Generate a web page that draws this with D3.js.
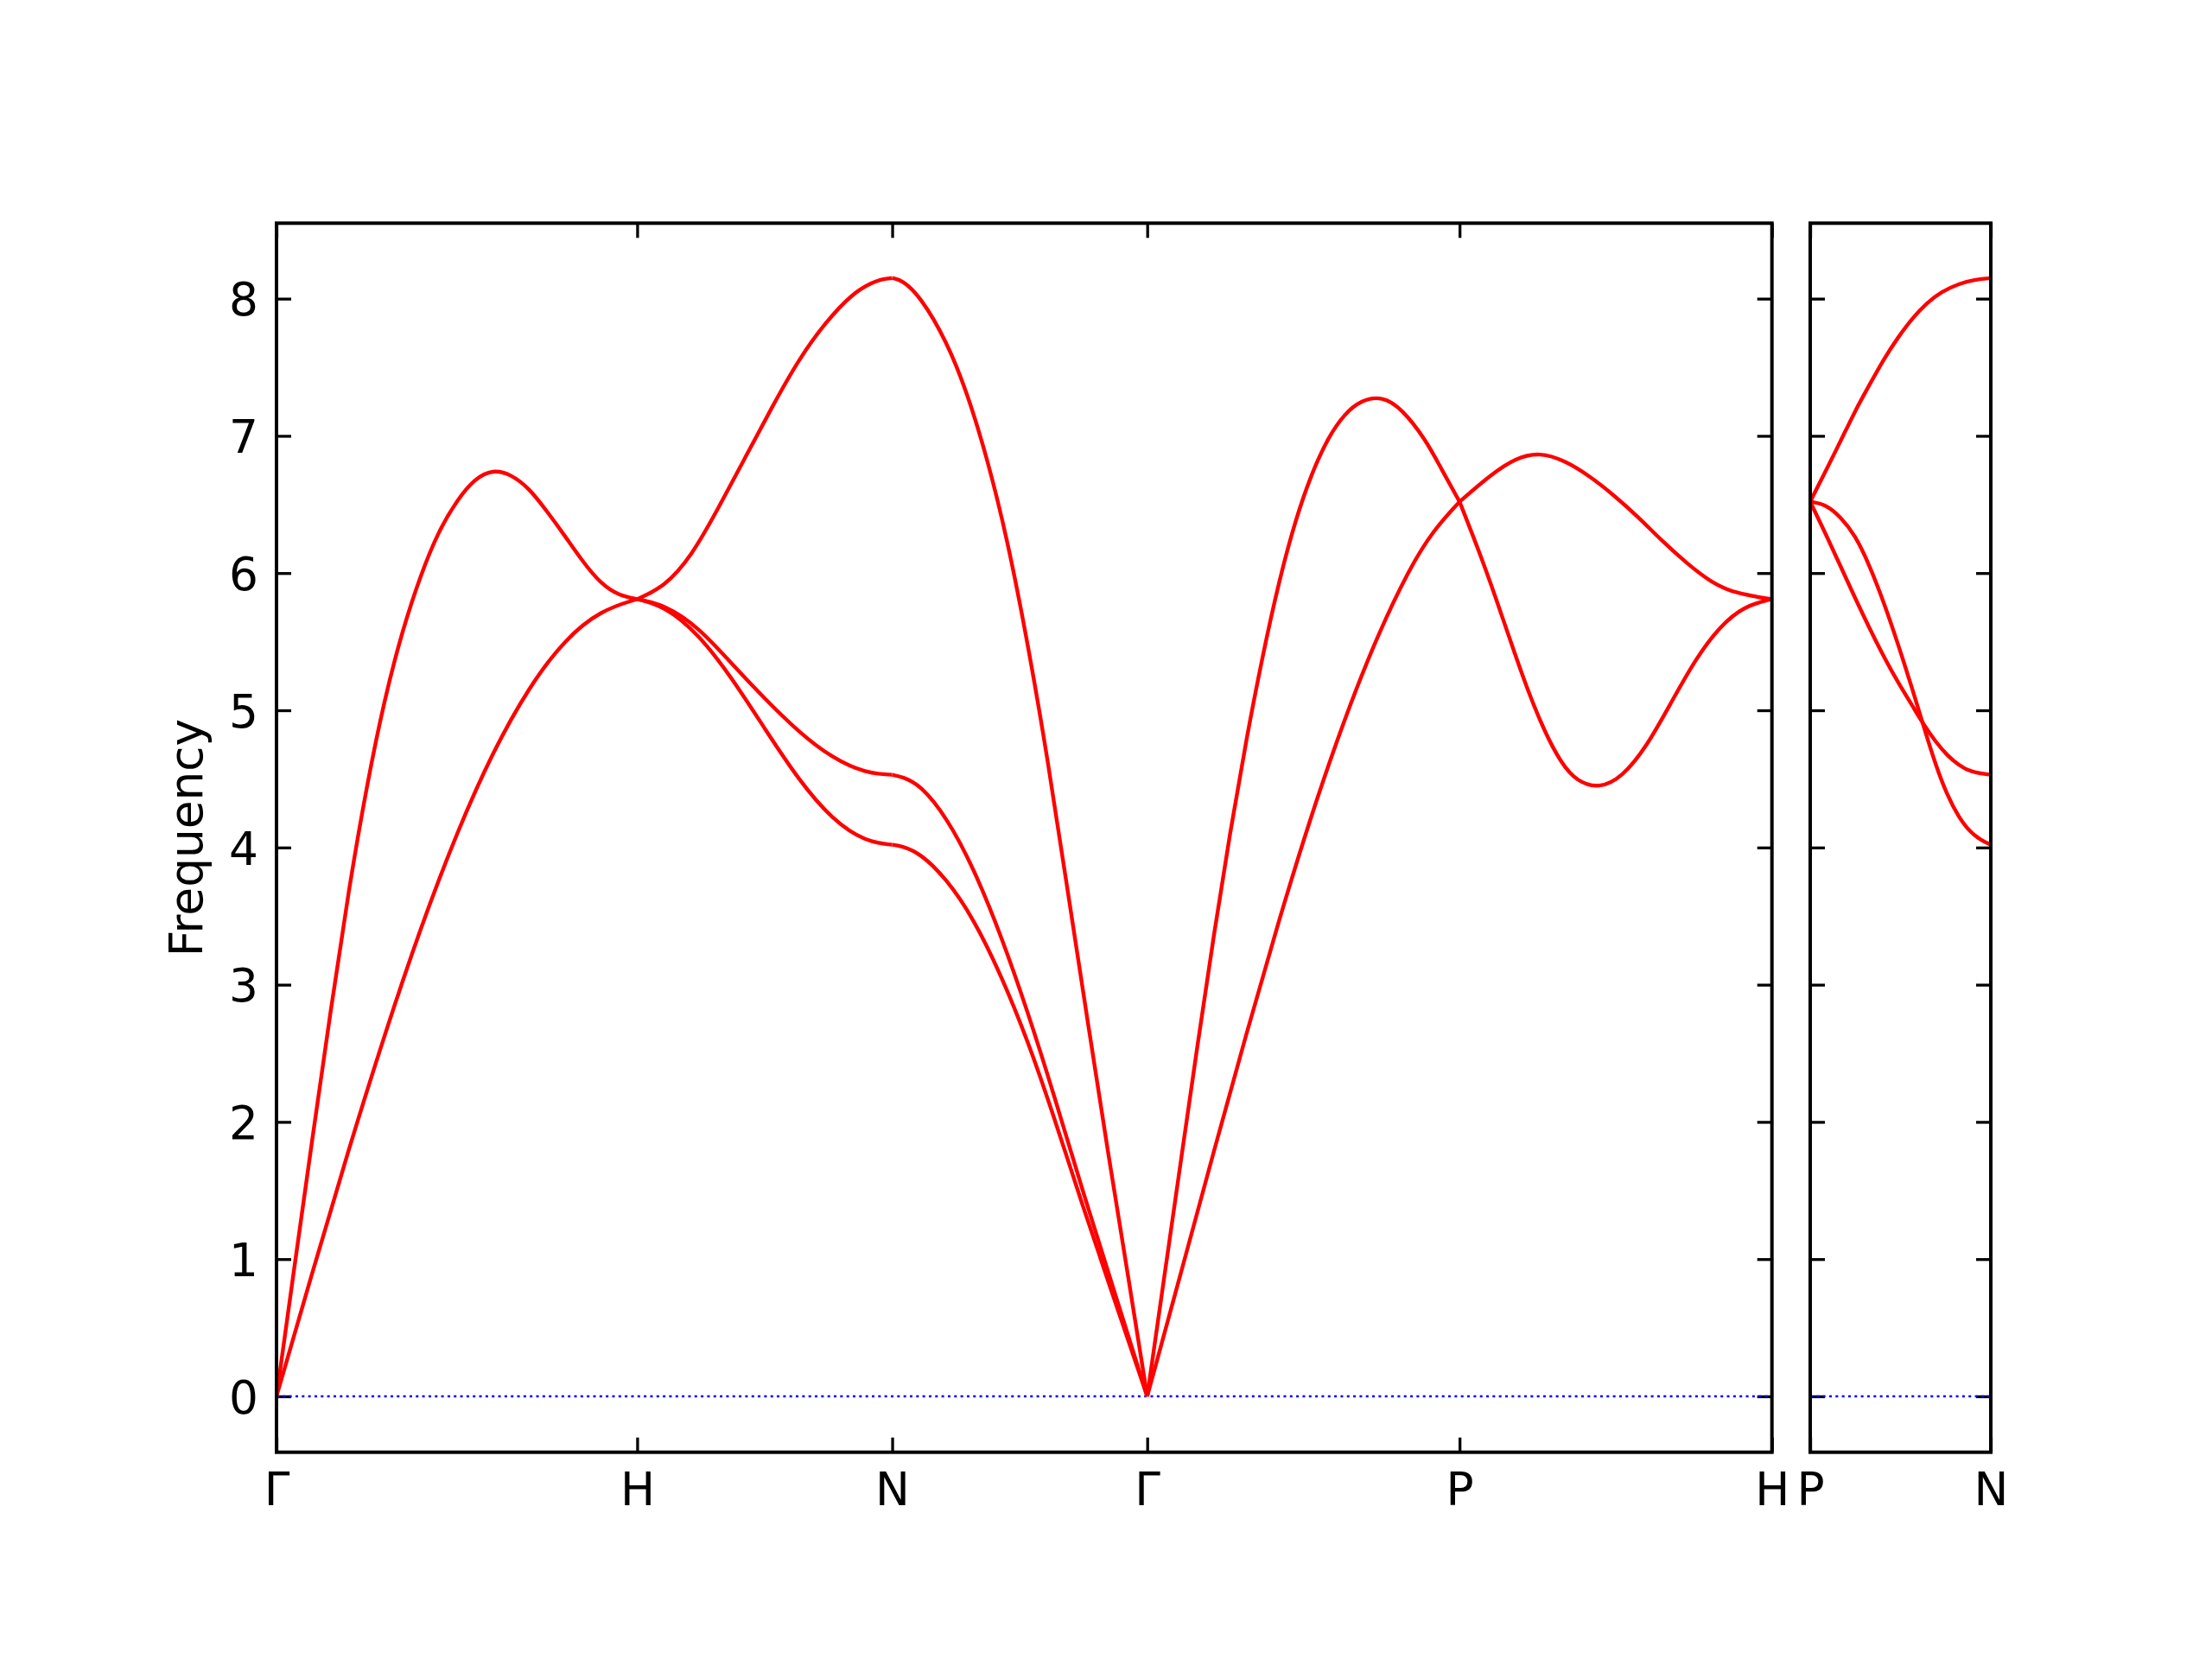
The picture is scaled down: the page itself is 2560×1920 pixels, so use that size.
<!DOCTYPE html>
<html>
<head>
<meta charset="utf-8">
<script src="https://cdn.jsdelivr.net/npm/d3@7"></script>
<style>
  html, body { margin: 0; padding: 0; background: #ffffff; }
  svg { display: block; }
  text { font-family: "DejaVu Sans", sans-serif; }
</style>
</head>
<body>
<script>
// ---------------- DATA ----------------
// High-symmetry points (path distance) and labels
const leftTickPos    = [0, 1, 1.7071, 2.4142, 3.2802, 4.1463];
const leftTickLabels = ["Γ", "H", "N", "Γ", "P", "H"];
const rightTickPos    = [0, 0.5];
const rightTickLabels = ["P", "N"];
const yTicks = [0, 1, 2, 3, 4, 5, 6, 7, 8];
const yLabel = "Frequency";

// Left panel branches: [q, frequency]
const GH_upper = [[0,0],[0.05,0.95],[0.10,1.89],[0.15,2.81],[0.20,3.69],[0.25,4.45],[0.30,5.09],[0.35,5.59],[0.40,5.99],[0.45,6.31],[0.50,6.53],[0.55,6.69],[0.60,6.755],[0.65,6.72],[0.70,6.62],[0.75,6.45],[0.80,6.27],[0.85,6.08],[0.90,5.92],[0.95,5.835],[1.0,5.81]];
const GH_lower = [[0,0],[0.1,0.91],[0.2,1.80],[0.3,2.64],[0.4,3.42],[0.5,4.11],[0.6,4.70],[0.7,5.17],[0.8,5.52],[0.9,5.73],[1.0,5.81]];

const HN_upper = [[1.0,5.81],[1.0755,5.90],[1.150,6.12],[1.2246,6.47],[1.2992,6.84],[1.3737,7.21],[1.4483,7.56],[1.5228,7.83],[1.5975,8.04],[1.6533,8.12],[1.68,8.143],[1.7071,8.15]];
const HN_mid   = [[1.0,5.81],[1.0755,5.77],[1.1687,5.61],[1.2619,5.34],[1.3551,5.08],[1.4483,4.84],[1.5415,4.65],[1.6347,4.54],[1.7071,4.53]];
const HN_low   = [[1.0,5.81],[1.0755,5.76],[1.1687,5.56],[1.2619,5.24],[1.3551,4.86],[1.4483,4.49],[1.5415,4.20],[1.6347,4.04],[1.7071,4.02]];

const NG_upper = [[1.7071,8.15],[1.735,8.135],[1.7839,8.02],[1.8584,7.69],[1.9142,7.32],[1.9703,6.84],[2.0261,6.25],[2.0822,5.50],[2.138,4.65],[2.1938,3.68],[2.2499,2.72],[2.3057,1.77],[2.3618,0.87],[2.4142,0]];
const NG_mid   = [[1.7071,4.53],[1.735,4.515],[1.7839,4.46],[1.8584,4.22],[1.9329,3.85],[2.0074,3.37],[2.0822,2.81],[2.1567,2.19],[2.2312,1.53],[2.3057,0.91],[2.4142,0]];
const NG_low   = [[1.7071,4.02],[1.735,4.01],[1.7839,3.96],[1.8584,3.77],[1.9329,3.48],[2.0074,3.08],[2.0822,2.60],[2.1567,2.03],[2.2312,1.42],[2.3057,0.84],[2.4142,0]];

const GP_upper = [[2.4142,0],[2.4636,0.91],[2.5088,1.74],[2.5541,2.57],[2.5992,3.37],[2.6445,4.12],[2.6897,4.80],[2.7350,5.41],[2.7803,5.95],[2.8254,6.39],[2.8706,6.73],[2.9159,6.99],[2.9612,7.16],[3.0063,7.26],[3.0662,7.29],[3.1194,7.20],[3.1872,6.97],[3.2295,6.76],[3.2802,6.52]];
const GP_lower = [[2.4142,0],[2.5088,0.91],[2.5992,1.79],[2.6897,2.65],[2.7803,3.48],[2.8706,4.25],[2.9612,4.94],[3.0515,5.54],[3.1421,6.04],[3.2099,6.32],[3.2802,6.52]];

const PH_a = [[3.2802,6.52],[3.3342,6.16],[3.3794,5.83],[3.4245,5.48],[3.4698,5.14],[3.5150,4.85],[3.5603,4.62],[3.6056,4.48],[3.6677,4.43],[3.7300,4.51],[3.7978,4.73],[3.8656,5.05],[3.9334,5.37],[4.0012,5.61],[4.0690,5.76],[4.1463,5.81]];
const PH_b = [[3.2802,6.52],[3.3682,6.72],[3.4360,6.84],[3.5038,6.88],[3.5716,6.82],[3.6394,6.71],[3.7072,6.57],[3.7751,6.41],[3.8431,6.23],[3.9109,6.07],[3.9787,5.93],[4.0465,5.85],[4.1463,5.81]];

// Right panel branches (P -> N)
const PN_upper = [[0,6.52],[0.0439,6.75],[0.0839,6.96],[0.1238,7.18],[0.1637,7.37],[0.2036,7.56],[0.2436,7.72],[0.2835,7.86],[0.3234,7.97],[0.3634,8.05],[0.4113,8.11],[0.4592,8.14],[0.5,8.15]];
const PN_a     = [[0,6.52],[0.0439,6.50],[0.0839,6.41],[0.1238,6.28],[0.1637,6.06],[0.2036,5.79],[0.2436,5.48],[0.2835,5.15],[0.3155,4.87],[0.3474,4.60],[0.3793,4.38],[0.4113,4.22],[0.4432,4.11],[0.4752,4.05],[0.5,4.02]];
const PN_b     = [[0,6.52],[0.0439,6.28],[0.0839,6.05],[0.1238,5.82],[0.1637,5.60],[0.2036,5.39],[0.2436,5.20],[0.2835,5.03],[0.3155,4.89],[0.3474,4.77],[0.3793,4.67],[0.4113,4.60],[0.4432,4.55],[0.5,4.53]];

const leftBranches  = [GH_upper, GH_lower, HN_upper, HN_mid, HN_low, NG_upper, NG_mid, NG_low, GP_upper, GP_lower, PH_a, PH_b];
const rightBranches = [PN_upper, PN_a, PN_b];

// ---------------- LAYOUT ----------------
const W = 2560, H = 1920;
const topY = 258.3, botY = 1680.7;
const fontSize = 53.3;

const svg = d3.select("body").append("svg").attr("width", W).attr("height", H);
svg.append("rect").attr("width", W).attr("height", H).attr("fill", "#ffffff");
const defs = svg.append("defs");

const yScale = d3.scaleLinear().domain([-0.4075, 8.55]).range([botY, topY]);

function panel(id, xScale, branches, tickPos, tickLabels, showYLabels) {
  const [x0, x1] = xScale.range();
  const g = svg.append("g");

  defs.append("clipPath").attr("id", id)
    .append("rect").attr("x", x0).attr("y", topY).attr("width", x1 - x0).attr("height", botY - topY);

  const tickLen = 17, tickW = 3.3;
  const axL = d3.axisLeft(yScale).tickValues(yTicks).tickSize(-tickLen).tickPadding(21)
    .tickFormat(showYLabels ? d3.format("d") : () => "");
  const axR = d3.axisRight(yScale).tickValues(yTicks).tickSize(-tickLen).tickFormat(() => "");
  const axB = d3.axisBottom(xScale).tickValues(tickPos).tickSize(-tickLen).tickPadding(0)
    .tickFormat((d, i) => tickLabels[i]);
  const axT = d3.axisTop(xScale).tickValues(tickPos).tickSize(-tickLen).tickFormat(() => "");

  const gl = g.append("g").attr("transform", `translate(${x0},0)`).call(axL);
  const gr = g.append("g").attr("transform", `translate(${x1},0)`).call(axR);
  const gb = g.append("g").attr("transform", `translate(0,${botY})`).call(axB);
  const gt = g.append("g").attr("transform", `translate(0,${topY})`).call(axT);

  [gl, gr, gb, gt].forEach(a => {
    a.select(".domain").remove();
    a.selectAll(".tick line").attr("stroke", "#000").attr("stroke-width", tickW);
    a.selectAll("text").attr("font-family", "'DejaVu Sans', sans-serif").attr("font-size", fontSize).attr("fill", "#000");
  });
  gl.selectAll(".tick text").attr("dy", "0.36em");
  gb.selectAll(".tick text").attr("y", 61).attr("dy", 0);

  const lg = g.append("g").attr("clip-path", `url(#${id})`);
  lg.append("path")
    .datum(xScale.domain().map(d => [d, 0]))
    .attr("d", d3.line().x(d => xScale(d[0])).y(d => yScale(d[1])))
    .attr("fill", "none").attr("stroke", "#0000ff").attr("stroke-width", 2.7)
    .attr("stroke-dasharray", "3,4.33");

  const line = d3.line().x(d => xScale(d[0])).y(d => yScale(d[1])).curve(d3.curveBasis);
  lg.selectAll("path.band").data(branches).join("path")
    .attr("class", "band")
    .attr("d", line)
    .attr("fill", "none").attr("stroke", "#ff0000").attr("stroke-width", 4.4)
    .attr("stroke-linejoin", "round").attr("stroke-linecap", "butt");

  g.append("rect").attr("x", x0).attr("y", topY).attr("width", x1 - x0).attr("height", botY - topY)
    .attr("fill", "none").attr("stroke", "#000").attr("stroke-width", 4);
}

const xL = d3.scaleLinear().domain([0, 4.1463]).range([320, 2050.7]);
const xR = d3.scaleLinear().domain([0, 0.5]).range([2095, 2304]);

panel("clipL", xL, leftBranches, leftTickPos, leftTickLabels, true);
panel("clipR", xR, rightBranches, rightTickPos, rightTickLabels, false);

svg.append("text")
  .attr("transform", `translate(234,${(topY + botY) / 2}) rotate(-90)`)
  .attr("text-anchor", "middle")
  .attr("font-family", "'DejaVu Sans', sans-serif")
  .attr("font-size", fontSize)
  .attr("fill", "#000")
  .text(yLabel);
</script>
</body>
</html>
